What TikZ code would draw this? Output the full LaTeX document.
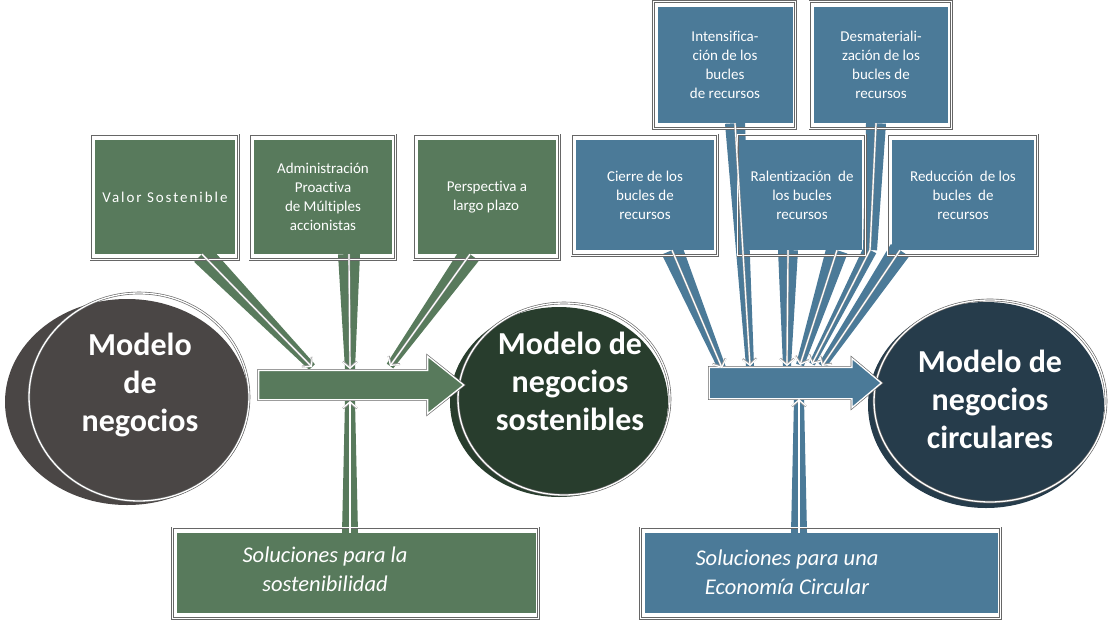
\documentclass[tikz,border=0pt]{standalone}
\usepackage{fontspec}
\setmainfont{Carlito}[Ligatures=NoCommon]
\usetikzlibrary{calc, shapes, positioning, arrows.meta}

\definecolor{boxgreen}{HTML}{587A5C}
\definecolor{boxblue}{HTML}{4B7A98}
\definecolor{cgray}{HTML}{4A4645}
\definecolor{cgreen}{HTML}{283D2D}
\definecolor{cblue}{HTML}{263C4B}

\pgfdeclarelayer{bg}
\pgfsetlayers{bg,main}

\newcommand{\boxfont}{\fontsize{15}{19}\selectfont}
\newcommand{\bigfont}{\fontsize{32}{38}\selectfont\bfseries}
\newcommand{\solfont}{\fontsize{22.5}{29}\selectfont\itshape}
% tapered beam: colour, from, to, half width at start, half width at end
\newcommand{\beam}[5]{\fill[#1] ($(#2)!#4!90:(#3)$) -- ($(#2)!#4!-90:(#3)$) -- ($(#3)!#5!90:(#2)$) -- ($(#3)!#5!-90:(#2)$) -- cycle;}

\tikzset{
  gbox/.style={shape=rectangle, fill=boxgreen, inner sep=0pt, minimum height=114pt, text=white, align=center, font=\boxfont},
  bbox/.style={gbox, fill=boxblue},
  sketch/.style={draw=white, line width=1.3pt, preaction={draw=black!60, line width=2.6pt}},
  wline/.style={draw=white, line width=1.2pt, preaction={draw=black!40, line width=2.1pt}, -{Straight Barb[length=6pt, width=14pt]}},
  bigtext/.style={text=white, align=center, font=\bigfont},
  soltext/.style={text=white, align=center, font=\solfont}
}

\begin{document}
\begin{tikzpicture}[x=1pt, y=-1pt]
\useasboundingbox (0,0) rectangle (1110,623);
%circles
\node[shape=ellipse, minimum width=244pt, minimum height=206pt, inner sep=0pt, fill=cgray] (m1) at (127,402) {};
\node[shape=ellipse, minimum width=218pt, minimum height=190pt, inner sep=0pt, fill=cgreen] (m2) at (559,402) {};
\node[shape=ellipse, minimum width=236pt, minimum height=206pt, inner sep=0pt, fill=cblue] (m3) at (986,405) {};
\draw[sketch] ($(m1)+(12,-5)$) ellipse [x radius=110pt, y radius=104pt];
\draw[sketch] ($(m2)+(5,-3)$) ellipse [x radius=106pt, y radius=96pt];
\draw[sketch] ($(m3)+(4,-4)$) ellipse [x radius=116pt, y radius=101pt];
\node[bigtext] (m1txt) at ($(m1)+(13,-17)$) {Modelo\\de\\negocios};
\node[bigtext] (m2txt) at ($(m2)+(11,-21)$) {Modelo de\\negocios\\sostenibles};
\node[bigtext] (m3txt) at ($(m3)+(4,-6)$) {Modelo de\\negocios\\circulares};
%block arrows
\node[single arrow, fill=boxgreen, sketch, inner sep=0pt, inner ysep=14pt, minimum height=205pt, single arrow head extend=14pt, single arrow tip angle=77] (garrow) at (352,385) {};
\node[single arrow, fill=boxblue, sketch, inner sep=0pt, inner ysep=15pt, minimum height=172pt, single arrow head extend=9pt, single arrow tip angle=80] (barrow) at (786,383) {};
%green boxes
\node[gbox, minimum width=140pt] (valor) at (165,197) {\addfontfeature{LetterSpace=13}Valor Sostenible};
\node[gbox, minimum width=138pt] (admin) at (323,197) {Administración\\Proactiva\\de Múltiples\\accionistas};
\node[gbox, minimum width=138pt] (persp) at (487,197) {Perspectiva a\\largo plazo\hspace*{2pt}};
\node[gbox, minimum width=359pt, minimum height=80pt] (solsost) at (356,573) {};
\node[soltext] (solsosttxt) at ($(solsost)+(-31,-4)$) {Soluciones para la\\sostenibilidad};
%blue boxes
\node[bbox, minimum width=138pt, minimum height=110pt] (cierre) at (645,195) {Cierre de los\\bucles de\\recursos};
\node[bbox, minimum width=120pt, minimum height=110pt] (ralent) at (802,195) {Ralentización~ de\\los bucles\\recursos};
\node[bbox, minimum width=142pt, minimum height=110pt] (reduc) at (963,195) {Reducción~ de los\\bucles~ de\\recursos};
\node[bbox, minimum width=135pt, minimum height=116pt] (intens) at (725,65) {Intensifica-\\ción de los\\bucles\\de recursos};
\node[bbox, minimum width=134pt, minimum height=116pt] (desmat) at (881,65) {Desmateriali-\\zación de los\\bucles de\\recursos};
\node[bbox, minimum width=353pt, minimum height=80pt] (solcirc) at (821,573) {};
\node[soltext] (solcirctxt) at ($(solcirc)+(-34,-1)$) {Soluciones para una\\Economía Circular};
\foreach \b in {valor,admin,persp,cierre,ralent,reduc,intens,desmat,solsost,solcirc}
  \draw[sketch] ($(\b.south west)+(-4,5)$) rectangle ($(\b.north east)+(3,-5)$);
%beam ends
\coordinate (vout) at ($(valor.south)+(37,0)$);
\coordinate (aout) at ($(admin.south)+(26,0)$);
\coordinate (pout) at ($(persp.south)+(-17,0)$);
\coordinate (sout) at ($(solsost.north)+(-6,0)$);
\coordinate (gin1) at (312,367);
\coordinate (gin2) at (350,369);
\coordinate (gin3) at (390,366);
\coordinate (gin4) at (350,401);
\coordinate (cout) at ($(cierre.south)+(27,0)$);
\coordinate (iout) at ($(intens.south)+(10,0)$);
\coordinate (rout1) at ($(ralent.south)+(-14,0)$);
\coordinate (rout2) at ($(ralent.south)+(35,0)$);
\coordinate (dout) at ($(desmat.south)+(-5,0)$);
\coordinate (dbend) at (870,250);
\coordinate (eout) at ($(reduc.south)+(-63,0)$);
\coordinate (bout) at ($(solcirc.north)+(-22,0)$);
\coordinate (bin1) at (722,368);
\coordinate (bin2) at (750,366);
\coordinate (bin3) at (787,366);
\coordinate (bin4) at (800,365);
\coordinate (bin5) at (812,364);
\coordinate (bin6) at (822,366);
\coordinate (bin7) at (799,399);
\begin{pgfonlayer}{bg}
\beam{boxgreen}{vout}{gin1}{11pt}{4pt}
\beam{boxgreen}{aout}{gin2}{11pt}{5pt}
\beam{boxgreen}{pout}{gin3}{11pt}{4pt}
\beam{boxgreen}{sout}{gin4}{8pt}{5pt}
\beam{boxblue}{cout}{bin1}{11pt}{4pt}
\beam{boxblue}{iout}{bin2}{10pt}{4pt}
\beam{boxblue}{rout1}{bin3}{10pt}{4pt}
\beam{boxblue}{rout2}{bin4}{11pt}{4pt}
\beam{boxblue}{dout}{dbend}{10pt}{7pt}
\beam{boxblue}{dbend}{bin5}{7pt}{3pt}
\beam{boxblue}{eout}{bin6}{11pt}{4pt}
\beam{boxblue}{bout}{bin7}{8pt}{5pt}
\end{pgfonlayer}
%sketched arrows
\draw[wline] (vout) -- (gin1);
\draw[wline] (aout) -- (gin2);
\draw[wline] (pout) -- (gin3);
\draw[wline] (sout) -- (gin4);
\draw[wline] (cout) -- (bin1);
\draw[wline] (iout) -- (bin2);
\draw[wline] (rout1) -- (bin3);
\draw[wline] (rout2) -- (bin4);
\draw[wline] (dout) -- (dbend) -- (bin5);
\draw[wline] (eout) -- (bin6);
\draw[wline] (bout) -- (bin7);
\end{tikzpicture}
\end{document}
